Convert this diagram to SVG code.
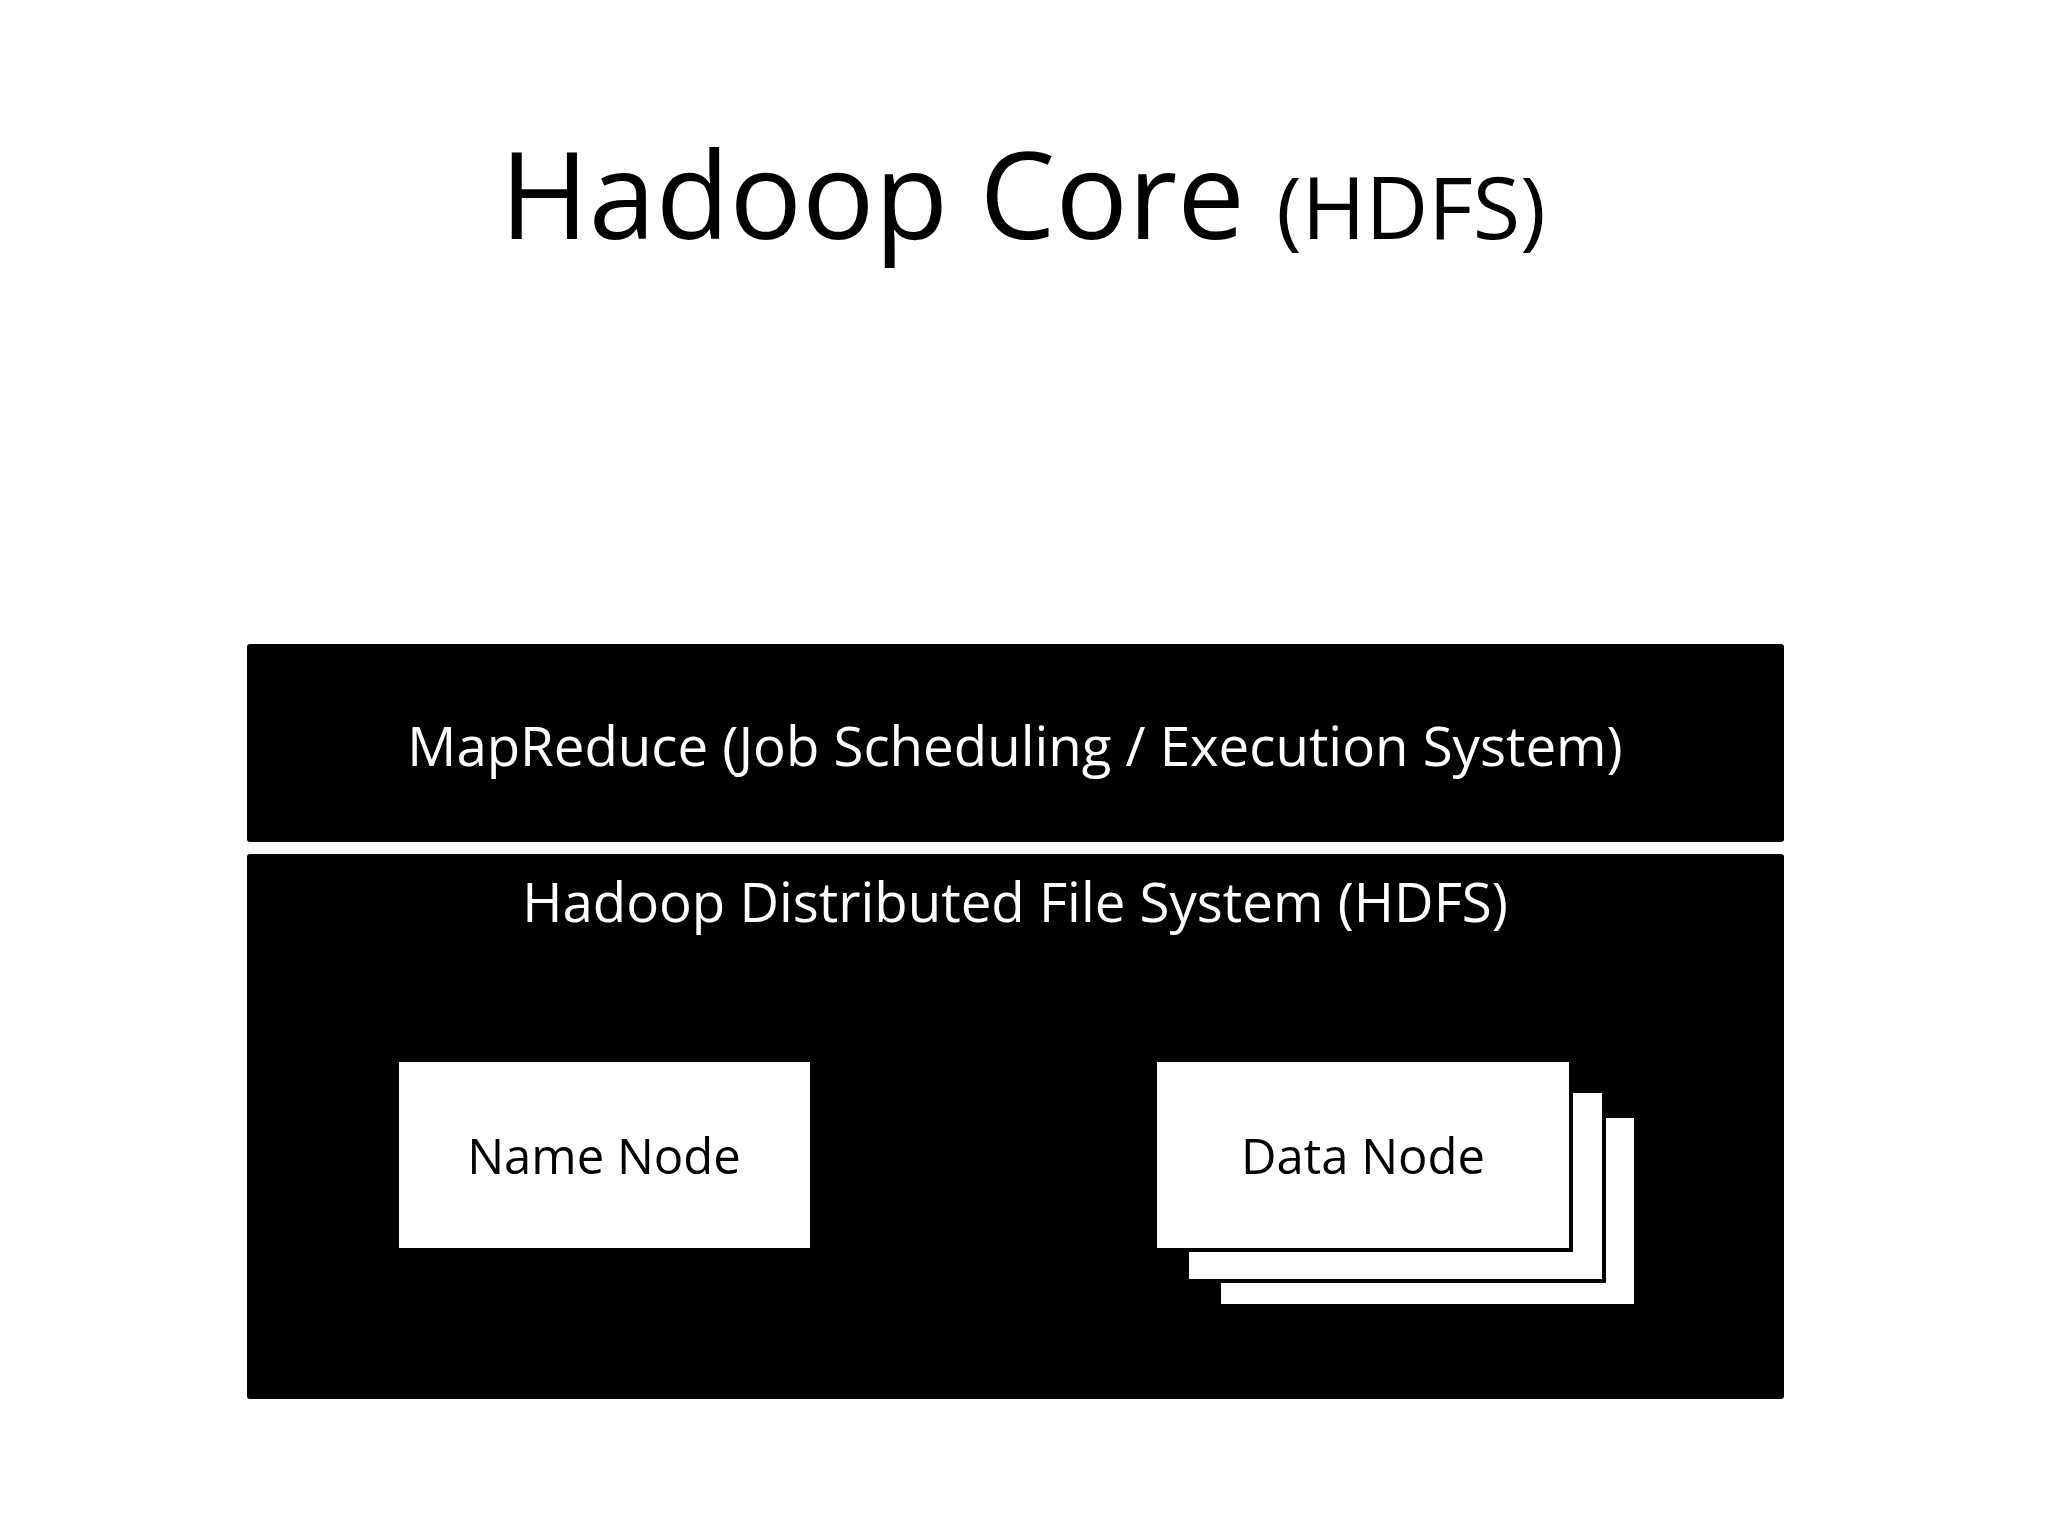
<svg xmlns="http://www.w3.org/2000/svg" width="2048" height="1536" viewBox="0 0 2048 1536">
<style>
.lyr{fill:#000;}
.wbox{fill:#fff;stroke:#000;stroke-width:4;}
.wt{fill:#fff;font-family:"Open Sans","Liberation Sans",sans-serif;font-size:54.6px;text-anchor:middle;}
.bt{fill:#000;font-family:"Open Sans","Liberation Sans",sans-serif;font-size:49px;text-anchor:middle;}
.title{fill:#000;font-family:"Open Sans","Liberation Sans",sans-serif;}
</style>
<rect width="2048" height="1536" fill="#fff"/>
<text class="title" x="500" y="239" font-size="120.5">Hadoop Core <tspan font-size="86.5">(HDFS)</tspan></text>
<g id="mapreduce">
<rect class="lyr" x="247" y="644" width="1537" height="198" rx="3"/>
<text class="wt" x="1015" y="766">MapReduce (Job Scheduling / Execution System)</text>
</g>
<g id="hdfs">
<rect class="lyr" x="247" y="854" width="1537" height="545" rx="3"/>
<text class="wt" x="1015" y="922">Hadoop Distributed File System (HDFS)</text>
</g>
<g id="namenode">
<rect class="wbox" x="397" y="1060" width="415" height="190"/>
<text class="bt" x="604" y="1174">Name Node</text>
</g>
<g id="datanode">
<rect class="wbox" x="1219" y="1116" width="417" height="190"/>
<rect class="wbox" x="1187" y="1091" width="417" height="190"/>
<rect class="wbox" x="1155" y="1060" width="416" height="190"/>
<text class="bt" x="1363" y="1174">Data Node</text>
</g>
<g id="connectors"></g>
</svg>
